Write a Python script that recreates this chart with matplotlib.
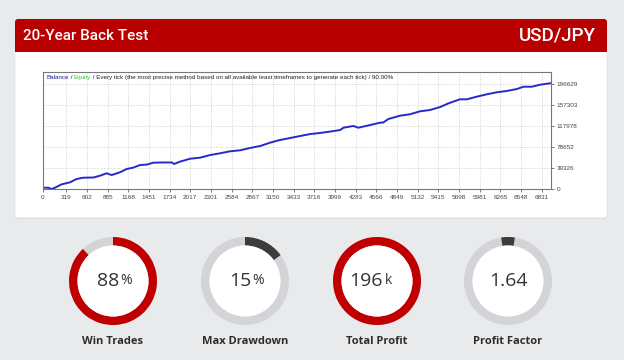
import numpy as np
import matplotlib.pyplot as plt
from matplotlib.patches import FancyBboxPatch, Wedge, Circle, Rectangle

# ---- data ----
title = "20-Year Back Test"
pair = "USD/JPY"

bal_x = [0, 70, 120, 165, 255, 370, 460, 550, 690, 780, 870, 940, 1055, 1145,
         1235, 1330, 1420, 1510, 1650, 1765, 1795, 1875, 2015, 2150, 2290,
         2425, 2560, 2700, 2835, 2975, 3110, 3245, 3385, 3520, 3660, 3795,
         3930, 4070, 4115, 4250, 4320, 4480, 4615, 4660, 4730, 4890, 5025,
         5165, 5300, 5440, 5555, 5710, 5805, 5940, 6080, 6215, 6350, 6490,
         6580, 6695, 6810, 6945]
bal_y = [3000, 3000, 600, 3000, 9300, 13000, 19200, 21600, 22000, 25300,
         29800, 26600, 31700, 37800, 40300, 45300, 46000, 49600, 50000, 50000,
         47200, 51500, 57000, 58900, 63900, 67100, 70800, 72700, 77000, 80700,
         86900, 91900, 95600, 99300, 103000, 105000, 107500, 110500, 114800,
         118000, 114800, 119800, 124100, 124500, 131000, 137200, 139800,
         145400, 147800, 153400, 160300, 167700, 167700, 172600, 177100,
         180800, 183200, 186900, 191200, 191200, 195000, 197600]

x_ticks = [0, 319, 602, 885, 1168, 1451, 1734, 2017, 2301, 2584, 2867, 3150,
           3433, 3716, 3999, 4283, 4566, 4849, 5132, 5415, 5698, 5981, 6265,
           6548, 6831]
y_ticks = [0, 39326, 78652, 117978, 157303, 196629]

stat_names = ["Win Trades", "Max Drawdown", "Total Profit", "Profit Factor"]
stat_main = ["88", "15", "196", "1.64"]
stat_unit = ["%", "%", "k", ""]
stat_frac = [0.88, 0.15, 1.0, 0.05]
stat_color = ["#c00000", "#3c3c3c", "#c00000", "#3c3c3c"]

# ---- figure ----
W, H = 624, 360
fig = plt.figure(figsize=(W / 100, H / 100), dpi=100)
fig.patch.set_facecolor("#e9eaec")

bg = fig.add_axes([0, 0, 1, 1])
bg.set_xlim(0, W)
bg.set_ylim(0, H)
bg.axis("off")


def Y(py):
    return H - py


# card with a soft shadow
bg.add_patch(FancyBboxPatch((15, Y(219)), 592, 199, boxstyle="round,pad=0,rounding_size=3",
                            fc="#d6d7da", ec="none"))
bg.add_patch(FancyBboxPatch((15, Y(218)), 592, 199, boxstyle="round,pad=0,rounding_size=3",
                            fc="white", ec="#e0e0e0", lw=0.5))
bg.add_patch(FancyBboxPatch((15, Y(52)), 592, 33, boxstyle="round,pad=0,rounding_size=3",
                            fc="#b80000", ec="none"))
bg.add_patch(Rectangle((15, Y(52)), 592, 5, fc="#b80000", ec="none"))
bg.text(23, Y(35.5), title, color="white", fontsize=11, family="Roboto",
        fontweight="medium", va="center", ha="left")
bg.text(596, Y(35.5), pair, color="white", fontsize=13.5, family="Roboto",
        fontweight="medium", va="center", ha="right")

# donuts
centers = [113, 245, 377, 508]
R, w = 44, 8.5
for cx, name, main, unit, frac, col in zip(centers, stat_names, stat_main,
                                          stat_unit, stat_frac, stat_color):
    cy = Y(281)
    bg.add_patch(Wedge((cx, cy), R, 0, 360, width=w, fc="#d3d4d8", ec="none"))
    if name == "Profit Factor":
        half = frac * 360 / 2
        bg.add_patch(Wedge((cx, cy), R, 90 - half, 90 + half, width=w, fc=col, ec="none"))
    elif frac >= 1:
        bg.add_patch(Wedge((cx, cy), R, 0, 360, width=w, fc=col, ec="none"))
    else:
        bg.add_patch(Wedge((cx, cy), R, 90 - frac * 360, 90, width=w, fc=col, ec="none"))
    bg.add_patch(Circle((cx, cy), R - w, fc="white", ec="none"))
    if unit:
        t = bg.text(cx + 6, cy, main, fontsize=14, color="#333333", family="Open Sans",
                    ha="right", va="center")
        bg.annotate(unit, xy=(1, 0), xycoords=t, xytext=(1, 1.5),
                    textcoords="offset points", fontsize=10, color="#333333",
                    family="Open Sans", ha="left", va="bottom")
    else:
        bg.text(cx, cy, main, fontsize=14, color="#333333", family="Open Sans",
                ha="center", va="center")
    bg.text(cx, Y(341), name, fontsize=8, color="#2e2e2e", family="Open Sans",
            fontweight="bold", ha="center", va="center")

# balance chart
ax = fig.add_axes([43 / W, 1 - 189.3 / H, (551 - 43) / W, (189.3 - 71.7) / H])
ax.set_facecolor("white")
ax.plot(bal_x, bal_y, color="#2828c8", lw=1.4)
ax.set_xlim(0, 6958)
ax.set_ylim(0, 219200)
ax.set_xticks(x_ticks)
ax.set_yticks(y_ticks)
ax.set_xticklabels([str(v) for v in x_ticks])
ax.set_yticklabels([str(v) for v in y_ticks])
ax.yaxis.tick_right()
ax.tick_params(axis="both", labelsize=4.6, colors="#444444", length=2, width=0.5,
               pad=2)
for lab in ax.get_xticklabels() + ax.get_yticklabels():
    lab.set_family("Liberation Sans")
ax.grid(True, color="#c4c4c4", lw=0.5, ls=(0, (1.5, 2)))
for s in ax.spines.values():
    s.set_color("#777777")
    s.set_linewidth(0.8)

parts = [("Balance", "#1a1a9a"), (" / ", "#222222"), ("Equity", "#44bb44"),
         (" / Every tick (the most precise method based on all available least timeframes to generate each tick) / 90.00%", "#222222")]
prev = ax.text(0.006, 0.975, parts[0][0], transform=ax.transAxes, fontsize=4.5,
               color=parts[0][1], family="Liberation Sans", va="top", ha="left")
for txt, col in parts[1:]:
    prev = ax.annotate(txt, xy=(1, 0), xycoords=prev, fontsize=4.5, color=col,
                       family="Liberation Sans", va="bottom", ha="left")

fig.savefig("out.png", dpi=100, facecolor=fig.get_facecolor())
